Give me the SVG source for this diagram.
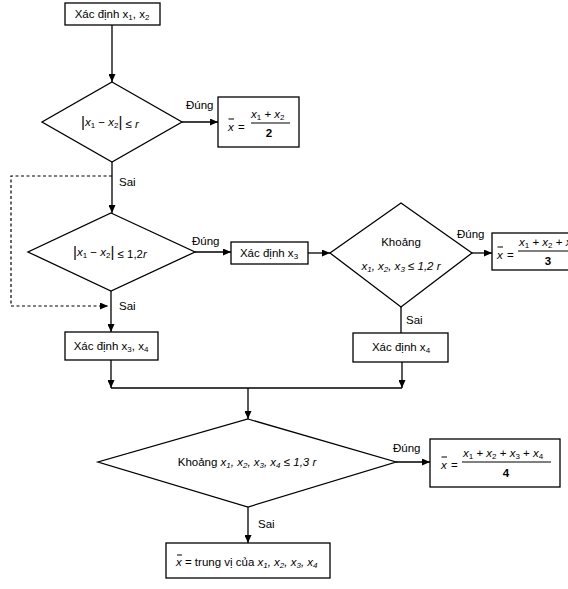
<svg xmlns="http://www.w3.org/2000/svg" width="568" height="589" viewBox="0 0 568 589">
<style>
.n{fill:#fff;stroke:#000;stroke-width:1.3}
.c{fill:none;stroke:#000;stroke-width:1.3}
.d{fill:none;stroke:#000;stroke-width:1.2;stroke-dasharray:3,2.5}
text{font-family:"Liberation Sans",Arial,sans-serif;font-size:11.5px;fill:#000}
.i{font-style:italic}
.s{font-size:8px}
.b{stroke:#000;stroke-width:1}
</style>
<defs>
<marker id="a" markerWidth="8" markerHeight="7" refX="8" refY="3.5" orient="auto" markerUnits="userSpaceOnUse">
<path d="M0,0 L8,3.5 L0,7 z" fill="#000"/>
</marker>
</defs>
<rect width="568" height="589" fill="#fff"/>
<g id="connectors">
<path class="c" d="M112,25 V82" marker-end="url(#a)"/>
<path class="c" d="M182,122 H218" marker-end="url(#a)"/>
<path class="c" d="M112,162 V213" marker-end="url(#a)"/>
<path class="d" d="M112,176 H11 V306 H108" marker-end="url(#a)"/>
<path class="c" d="M195,252 H231" marker-end="url(#a)"/>
<path class="c" d="M308,253 H330" marker-end="url(#a)"/>
<path class="c" d="M472,253 H492" marker-end="url(#a)"/>
<path class="c" d="M111,291 V332" marker-end="url(#a)"/>
<path class="c" d="M401,307 V333"/>
<path class="c" d="M111,360 V388" marker-end="url(#a)"/>
<path class="c" d="M402,362 V388" marker-end="url(#a)"/>
<path class="c" d="M111,388 H402"/>
<path class="c" d="M248,388 V419" marker-end="url(#a)"/>
<path class="c" d="M396,462 H430" marker-end="url(#a)"/>
<path class="c" d="M248,507 V543" marker-end="url(#a)"/>
<text x="186" y="109">Đúng</text>
<text x="119" y="186">Sai</text>
<text x="192" y="245">Đúng</text>
<text x="119" y="310">Sai</text>
<text x="457" y="238">Đúng</text>
<text x="406" y="324">Sai</text>
<text x="393" y="452">Đúng</text>
<text x="258" y="528">Sai</text>
</g>
<g id="n1">
<rect class="n" x="65" y="3" width="95" height="22"/>
<text x="112" y="18" text-anchor="middle">Xác định x<tspan class="s" dy="2">1</tspan><tspan dy="-2">, x</tspan><tspan class="s" dy="2">2</tspan></text>
</g>
<g id="n2">
<polygon class="n" points="112,82 182,122 112,162 42,122"/>
<text x="81" y="126"><tspan font-size="15" dy="1">|</tspan><tspan class="i" dy="-1">x</tspan><tspan class="s" dy="2">1</tspan><tspan dy="-2"> − </tspan><tspan class="i">x</tspan><tspan class="s" dy="2">2</tspan><tspan font-size="15" dy="-1">|</tspan><tspan dy="1"> ≤ </tspan><tspan class="i">r</tspan></text>
</g>
<g id="n3">
<rect class="n" x="218" y="97" width="81" height="50"/>
<text x="228" y="131" class="i">x</text>
<line class="b" x1="228.5" y1="119" x2="234" y2="119"/>
<text x="238" y="131">=</text>
<text x="251" y="118"><tspan class="i">x</tspan><tspan class="s" dy="2">1</tspan><tspan dy="-2"> + </tspan><tspan class="i">x</tspan><tspan class="s" dy="2">2</tspan></text>
<line class="b" x1="251" y1="123" x2="290" y2="123"/>
<text x="269" y="137" text-anchor="middle" font-weight="bold">2</text>
</g>
<g id="n4">
<polygon class="n" points="111,213 195,252 111,291 28,252"/>
<text x="73" y="256"><tspan font-size="15" dy="1">|</tspan><tspan class="i" dy="-1">x</tspan><tspan class="s" dy="2">1</tspan><tspan dy="-2"> − </tspan><tspan class="i">x</tspan><tspan class="s" dy="2">2</tspan><tspan font-size="15" dy="-1">|</tspan><tspan dy="1"> ≤ 1,2</tspan><tspan class="i">r</tspan></text>
</g>
<g id="n5">
<rect class="n" x="231" y="242" width="77" height="22"/>
<text x="269" y="257" text-anchor="middle">Xác định x<tspan class="s" dy="2">3</tspan></text>
</g>
<g id="n6">
<polygon class="n" points="401,203 472,253 401,307 330,253"/>
<text x="401" y="246" text-anchor="middle">Khoảng</text>
<text x="401" y="270" text-anchor="middle" class="i" font-size="10.5">x<tspan class="s" dy="2">1</tspan><tspan dy="-2">, x</tspan><tspan class="s" dy="2">2</tspan><tspan dy="-2">, x</tspan><tspan class="s" dy="2">3</tspan><tspan dy="-2"> ≤ 1,2 r</tspan></text>
</g>
<g id="n7">
<rect class="n" x="492" y="233" width="100" height="37"/>
<text x="497" y="259" class="i">x</text>
<line class="b" x1="497.5" y1="247" x2="503" y2="247"/>
<text x="507" y="259">=</text>
<text x="519" y="246"><tspan class="i">x</tspan><tspan class="s" dy="2">1</tspan><tspan dy="-2"> + </tspan><tspan class="i">x</tspan><tspan class="s" dy="2">2</tspan><tspan dy="-2"> + </tspan><tspan class="i">x</tspan><tspan class="s" dy="2">3</tspan></text>
<line class="b" x1="518" y1="251" x2="580" y2="251"/>
<text x="548" y="265" text-anchor="middle" font-weight="bold">3</text>
</g>
<g id="n8">
<rect class="n" x="65" y="332" width="93" height="28"/>
<text x="111" y="350" text-anchor="middle">Xác định x<tspan class="s" dy="2">3</tspan><tspan dy="-2">, x</tspan><tspan class="s" dy="2">4</tspan></text>
</g>
<g id="n9">
<rect class="n" x="353" y="333" width="95" height="29"/>
<text x="401" y="351" text-anchor="middle">Xác định x<tspan class="s" dy="2">4</tspan></text>
</g>
<g id="n10">
<polygon class="n" points="248,419 396,462 248,507 98,462"/>
<text x="247" y="466" text-anchor="middle">Khoảng <tspan class="i">x</tspan><tspan class="s i" dy="2">1</tspan><tspan class="i" dy="-2">, x</tspan><tspan class="s i" dy="2">2</tspan><tspan class="i" dy="-2">, x</tspan><tspan class="s i" dy="2">3</tspan><tspan class="i" dy="-2">, x</tspan><tspan class="s i" dy="2">4</tspan><tspan class="i" dy="-2"> ≤ 1,3 r</tspan></text>
</g>
<g id="n11">
<rect class="n" x="430" y="439" width="130" height="48"/>
<text x="441" y="469" class="i">x</text>
<line class="b" x1="441.5" y1="457" x2="447" y2="457"/>
<text x="451" y="469">=</text>
<text x="463" y="457"><tspan class="i">x</tspan><tspan class="s" dy="2">1</tspan><tspan dy="-2"> + </tspan><tspan class="i">x</tspan><tspan class="s" dy="2">2</tspan><tspan dy="-2"> + </tspan><tspan class="i">x</tspan><tspan class="s" dy="2">3</tspan><tspan dy="-2"> + </tspan><tspan class="i">x</tspan><tspan class="s" dy="2">4</tspan></text>
<line class="b" x1="462" y1="462" x2="551" y2="462"/>
<text x="506" y="477" text-anchor="middle" font-weight="bold">4</text>
</g>
<g id="n12">
<rect class="n" x="166" y="543" width="164" height="35"/>
<text x="176" y="566"><tspan class="i">x</tspan> = trung vị của <tspan class="i">x</tspan><tspan class="s i" dy="2">1</tspan><tspan class="i" dy="-2">, x</tspan><tspan class="s i" dy="2">2</tspan><tspan class="i" dy="-2">, x</tspan><tspan class="s i" dy="2">3</tspan><tspan class="i" dy="-2">, x</tspan><tspan class="s i" dy="2">4</tspan></text>
<line class="b" x1="177" y1="555" x2="182" y2="555"/>
</g>
</svg>
